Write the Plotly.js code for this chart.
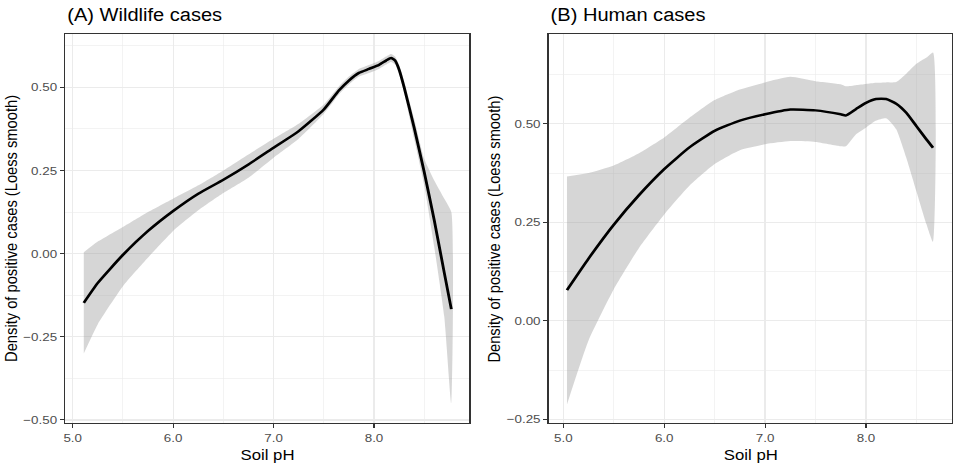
<!DOCTYPE html>
<html>
<head>
<meta charset="utf-8">
<script src="https://cdn.plot.ly/plotly-3.0.1.min.js"></script>
<style>
html,body{margin:0;padding:0;background:#fff;overflow:hidden;width:953px;height:466px;}
#chart{width:836px;height:466px;transform:scaleX(1.13995);transform-origin:0 0;}
</style>
</head>
<body>
<div id="chart"></div>
<script>
// Panel A: Wildlife cases
const wildPH    = [5.11, 5.25, 5.5, 5.75, 6.0, 6.25, 6.5, 6.75, 7.0, 7.25, 7.5, 7.65, 7.75, 7.85, 7.95, 8.05, 8.12, 8.17, 8.21, 8.25, 8.3, 8.4, 8.5, 8.6, 8.7, 8.77];
const wildFit   = [-0.148, -0.088, -0.004, 0.068, 0.128, 0.18, 0.222, 0.268, 0.318, 0.368, 0.433, 0.49, 0.52, 0.543, 0.555, 0.567, 0.58, 0.588, 0.58, 0.553, 0.50, 0.378, 0.245, 0.10, -0.058, -0.167];
const wildLower = [-0.30, -0.212, -0.098, -0.012, 0.068, 0.13, 0.182, 0.228, 0.288, 0.345, 0.42, 0.478, 0.508, 0.532, 0.543, 0.555, 0.568, 0.576, 0.568, 0.54, 0.482, 0.345, 0.205, 0.02, -0.19, -0.45];
const wildUpper = [0.004, 0.036, 0.08, 0.125, 0.165, 0.205, 0.25, 0.298, 0.345, 0.39, 0.448, 0.502, 0.532, 0.555, 0.567, 0.579, 0.592, 0.60, 0.592, 0.566, 0.518, 0.405, 0.285, 0.22, 0.165, 0.125];

// Panel B: Human cases
const humanPH    = [5.036, 5.25, 5.5, 5.75, 6.0, 6.25, 6.5, 6.75, 7.0, 7.25, 7.5, 7.75, 7.8, 7.9, 8.0, 8.1, 8.2, 8.3, 8.4, 8.5, 8.6, 8.665];
const humanFit   = [0.078, 0.158, 0.244, 0.319, 0.385, 0.44, 0.482, 0.508, 0.524, 0.536, 0.534, 0.524, 0.521, 0.537, 0.553, 0.563, 0.563, 0.551, 0.528, 0.494, 0.46, 0.439];
const humanLower = [-0.212, -0.05, 0.08, 0.185, 0.27, 0.343, 0.398, 0.433, 0.448, 0.456, 0.454, 0.443, 0.443, 0.473, 0.49, 0.508, 0.514, 0.486, 0.414, 0.329, 0.245, 0.20];
const humanUpper = [0.366, 0.375, 0.394, 0.425, 0.465, 0.515, 0.56, 0.587, 0.605, 0.619, 0.608, 0.600, 0.595, 0.598, 0.601, 0.604, 0.605, 0.606, 0.627, 0.652, 0.668, 0.681];

const panelTitles = ["(A) Wildlife cases", "(B) Human cases"];
const xTitle = "Soil pH";
const yTitle = "Density of positive cases (Loess smooth)";
const xTicksA = [5, 6, 7, 8];
const yTicksA = [-0.5, -0.25, 0, 0.25, 0.5];
const xTicksB = [5, 6, 7, 8];
const yTicksB = [-0.25, 0, 0.25, 0.5];

function band(x, lo, hi, xa, ya) {
  return {
    x: x.concat(x.slice().reverse()),
    y: hi.concat(lo.slice().reverse()),
    xaxis: xa, yaxis: ya,
    type: 'scatter', mode: 'lines', fill: 'toself',
    fillcolor: 'rgba(153,153,153,0.4)',
    line: {width: 0, shape: 'spline', smoothing: 0.5},
    hoverinfo: 'skip', showlegend: false
  };
}
function fit(x, y, xa, ya) {
  return {
    x: x, y: y, xaxis: xa, yaxis: ya,
    type: 'scatter', mode: 'lines',
    line: {color: '#000000', width: 2.5, shape: 'spline', smoothing: 0.5},
    showlegend: false
  };
}

const data = [
  band(wildPH, wildLower, wildUpper, 'x', 'y'),
  fit(wildPH, wildFit, 'x', 'y'),
  band(humanPH, humanLower, humanUpper, 'x2', 'y2'),
  fit(humanPH, humanFit, 'x2', 'y2')
];

const FAM = 'Liberation Sans, Arial, Helvetica, sans-serif';
const tickFont = {family: FAM, size: 11.75, color: '#4d4d4d'};
function axisBase(range, ticks, fmt, anchor, domain, minorStep, minor0) {
  return {
    domain: domain, range: range, anchor: anchor,
    tickvals: ticks, tickformat: fmt,
    ticks: 'outside', ticklen: 3.7, tickcolor: '#333333', tickwidth: 1,
    tickfont: tickFont,
    showline: true, mirror: true, linecolor: '#333333', linewidth: 1.1,
    showgrid: true, gridcolor: '#ebebeb', gridwidth: 1.1,
    minor: {dtick: minorStep, tick0: minor0, showgrid: true, gridcolor: '#ebebeb', gridwidth: 0.55},
    zeroline: false
  };
}

const W = 836, H = 466, WF = 953;
const yDom = [1 - 423.3 / H, 1 - 34.3 / H];
const xDomA = [65.3 / WF, 469.3 / WF];
const xDomB = [548.7 / WF, 951.8 / WF];

const titleFont = {family: FAM, size: 17.6, color: '#000000'};
const axTitleFont = {family: FAM, size: 14.7, color: '#000000'};

const annotations = [
  {text: panelTitles[0], x: 65.3 / WF, y: 1 - 14.5 / H, xanchor: 'left', yanchor: 'middle', font: titleFont},
  {text: panelTitles[1], x: 548.3 / WF, y: 1 - 14.5 / H, xanchor: 'left', yanchor: 'middle', font: titleFont},
  {text: xTitle, x: (xDomA[0] + xDomA[1]) / 2, y: 1 - 455 / H, xanchor: 'center', yanchor: 'middle', font: axTitleFont},
  {text: xTitle, x: (xDomB[0] + xDomB[1]) / 2, y: 1 - 455 / H, xanchor: 'center', yanchor: 'middle', font: axTitleFont},
  {text: yTitle, x: 11.5 / WF, y: (yDom[0] + yDom[1]) / 2, xanchor: 'center', yanchor: 'middle', textangle: -90, font: axTitleFont},
  {text: yTitle, x: 494.5 / WF, y: (yDom[0] + yDom[1]) / 2, xanchor: 'center', yanchor: 'middle', textangle: -90, font: axTitleFont}
].map(a => Object.assign({xref: 'paper', yref: 'paper', showarrow: false}, a));

const layout = {
  width: W, height: H,
  margin: {l: 0, r: 0, t: 0, b: 0},
  paper_bgcolor: '#ffffff', plot_bgcolor: '#ffffff',
  showlegend: false,
  xaxis: axisBase([4.926, 8.949], xTicksA, '.1f', 'y', xDomA, 0.5, 5),
  yaxis: axisBase([-0.510, 0.659], yTicksA, '.2f', 'x', yDom, 0.125, 0),
  xaxis2: axisBase([4.855, 8.851], xTicksB, '.1f', 'y2', xDomB, 0.5, 5),
  yaxis2: axisBase([-0.260, 0.727], yTicksB, '.2f', 'x2', yDom, 0.125, 0),
  annotations: annotations
};

Plotly.newPlot('chart', data, layout, {displayModeBar: false, staticPlot: true});
</script>
</body>
</html>
